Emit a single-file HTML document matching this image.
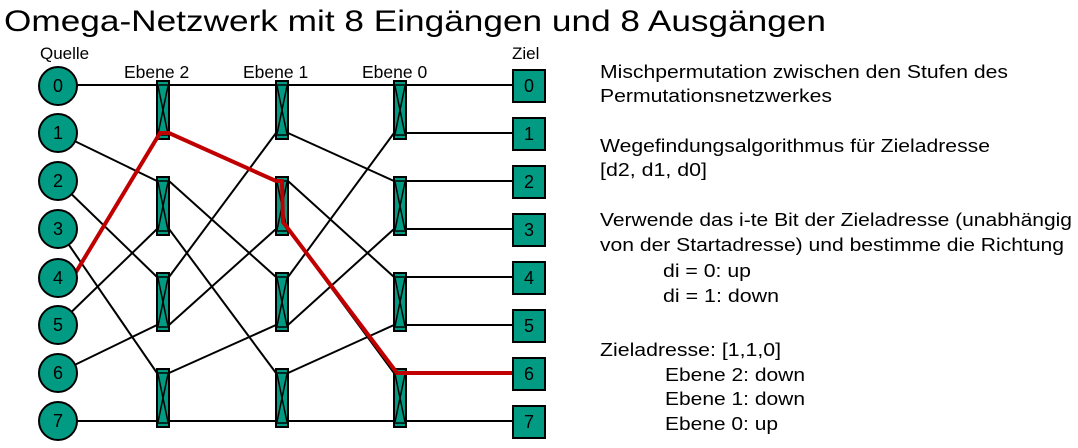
<!DOCTYPE html>
<html><head><meta charset="utf-8"><style>
html,body{margin:0;padding:0;background:#fff;}
svg{display:block;}
text{font-family:"Liberation Sans",Arial,sans-serif;fill:#000;}
</style></head><body>
<svg width="1078" height="448" viewBox="0 0 1078 448" xmlns="http://www.w3.org/2000/svg">
<text x="4" y="31" font-size="30" textLength="822" lengthAdjust="spacingAndGlyphs">Omega-Netzwerk mit 8 Eingängen und 8 Ausgängen</text>
<text x="40" y="59" font-size="17">Quelle</text>
<text x="512" y="59" font-size="17">Ziel</text>
<text x="124" y="78" font-size="17.5">Ebene 2</text>
<text x="243" y="78" font-size="17.5">Ebene 1</text>
<text x="362" y="78" font-size="17.5">Ebene 0</text>

<g stroke="#000" stroke-width="2" fill="none">
<line x1="58" y1="85" x2="157" y2="85"/>
<line x1="58" y1="133" x2="157" y2="181"/>
<line x1="58" y1="181" x2="157" y2="277"/>
<line x1="58" y1="229" x2="157" y2="373"/>
<line x1="58" y1="325" x2="157" y2="229"/>
<line x1="58" y1="373" x2="157" y2="325"/>
<line x1="58" y1="421" x2="157" y2="421"/>
<line x1="169" y1="85" x2="276" y2="85"/>
<line x1="169" y1="133" x2="276" y2="181"/>
<line x1="169" y1="181" x2="276" y2="277"/>
<line x1="169" y1="229" x2="276" y2="373"/>
<line x1="169" y1="277" x2="276" y2="133"/>
<line x1="169" y1="325" x2="276" y2="229"/>
<line x1="169" y1="373" x2="276" y2="325"/>
<line x1="169" y1="421" x2="276" y2="421"/>
<line x1="288" y1="85" x2="394" y2="85"/>
<line x1="288" y1="133" x2="394" y2="181"/>
<line x1="288" y1="181" x2="394" y2="277"/>
<line x1="288" y1="229" x2="394" y2="373"/>
<line x1="288" y1="277" x2="394" y2="133"/>
<line x1="288" y1="325" x2="394" y2="229"/>
<line x1="288" y1="373" x2="394" y2="325"/>
<line x1="288" y1="421" x2="394" y2="421"/>
<line x1="406" y1="85" x2="513" y2="85"/>
<line x1="406" y1="133" x2="513" y2="133"/>
<line x1="406" y1="181" x2="513" y2="181"/>
<line x1="406" y1="229" x2="513" y2="229"/>
<line x1="406" y1="277" x2="513" y2="277"/>
<line x1="406" y1="325" x2="513" y2="325"/>
<line x1="406" y1="421" x2="513" y2="421"/>
</g>

<defs>
<g id="sw">
<rect x="0" y="0" width="12" height="58" fill="#009b82" stroke="#000" stroke-width="2"/>
<line x1="0" y1="4" x2="12" y2="4" stroke="#000" stroke-width="1.5"/>
<line x1="0" y1="54" x2="12" y2="54" stroke="#000" stroke-width="1.5"/>
<line x1="1" y1="5" x2="11" y2="53" stroke="#000" stroke-width="1.5"/>
<line x1="11" y1="5" x2="1" y2="53" stroke="#000" stroke-width="1.5"/>
</g>
</defs>
<use href="#sw" x="157" y="81"/><use href="#sw" x="157" y="177"/><use href="#sw" x="157" y="273"/><use href="#sw" x="157" y="369"/>
<use href="#sw" x="276" y="81"/><use href="#sw" x="276" y="177"/><use href="#sw" x="276" y="273"/><use href="#sw" x="276" y="369"/>
<use href="#sw" x="394" y="81"/><use href="#sw" x="394" y="177"/><use href="#sw" x="394" y="273"/><use href="#sw" x="394" y="369"/>

<polyline points="70,282 160,133 169,133 276,181 282,181 283,222 397,373 513,373" fill="none" stroke="#c00000" stroke-width="4" stroke-linejoin="miter"/>

<g fill="#009b82" stroke="#000" stroke-width="2">
<circle cx="58" cy="86" r="19"/><circle cx="58" cy="133" r="19"/><circle cx="58" cy="181" r="19"/><circle cx="58" cy="229" r="19"/>
<circle cx="58" cy="278" r="19"/><circle cx="58" cy="325" r="19"/><circle cx="58" cy="373" r="19"/><circle cx="58" cy="421" r="19"/>
<rect x="513" y="70" width="32" height="32"/><rect x="513" y="118" width="32" height="32"/><rect x="513" y="166" width="32" height="32"/><rect x="513" y="214" width="32" height="32"/>
<rect x="513" y="262" width="32" height="32"/><rect x="513" y="310" width="32" height="32"/><rect x="513" y="358" width="32" height="32"/><rect x="513" y="406" width="32" height="32"/>
</g>
<g font-size="18" text-anchor="middle">
<text x="58" y="92">0</text><text x="58" y="139">1</text><text x="58" y="187">2</text><text x="58" y="235">3</text>
<text x="58" y="284">4</text><text x="58" y="331">5</text><text x="58" y="379">6</text><text x="58" y="427">7</text>
<text x="529" y="92">0</text><text x="529" y="140">1</text><text x="529" y="188">2</text><text x="529" y="236">3</text>
<text x="529" y="284">4</text><text x="529" y="332">5</text><text x="529" y="380">6</text><text x="529" y="428">7</text>
</g>

<g font-size="18.5">
<text x="600" y="78" textLength="408" lengthAdjust="spacingAndGlyphs">Mischpermutation zwischen den Stufen des</text>
<text x="600" y="102" textLength="232" lengthAdjust="spacingAndGlyphs">Permutationsnetzwerkes</text>
<text x="600" y="152" textLength="390" lengthAdjust="spacingAndGlyphs">Wegefindungsalgorithmus für Zieladresse</text>
<text x="600" y="176" textLength="107" lengthAdjust="spacingAndGlyphs">[d2, d1, d0]</text>
<text x="600" y="226" textLength="472" lengthAdjust="spacingAndGlyphs">Verwende das i-te Bit der Zieladresse (unabhängig</text>
<text x="600" y="251" textLength="464" lengthAdjust="spacingAndGlyphs">von der Startadresse) und bestimme die Richtung</text>
<text x="663" y="277" textLength="88" lengthAdjust="spacingAndGlyphs">di = 0: up</text>
<text x="663" y="302" textLength="116" lengthAdjust="spacingAndGlyphs">di = 1: down</text>
<text x="600" y="356" textLength="181" lengthAdjust="spacingAndGlyphs">Zieladresse: [1,1,0]</text>
<text x="665" y="381" textLength="140" lengthAdjust="spacingAndGlyphs">Ebene 2: down</text>
<text x="665" y="405" textLength="140" lengthAdjust="spacingAndGlyphs">Ebene 1: down</text>
<text x="665" y="430" textLength="113" lengthAdjust="spacingAndGlyphs">Ebene 0: up</text>
</g>
</svg>
</body></html>
